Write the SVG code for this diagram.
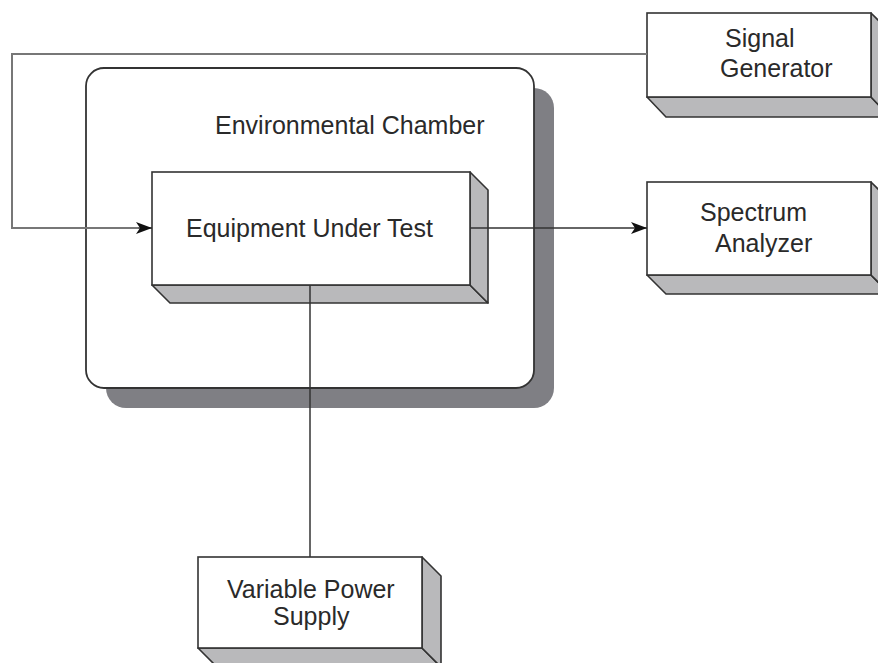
<svg xmlns="http://www.w3.org/2000/svg" width="878" height="663" viewBox="0 0 878 663">
<style>
.front{fill:#fff;stroke:#333;stroke-width:1.6}
.side{fill:#b9b9bb;stroke:#333;stroke-width:1.6;stroke-linejoin:round}
.lbl{font-family:"Liberation Sans",Arial,sans-serif;font-size:25px;fill:#2a2a2a}
.wire{fill:none;stroke:#333;stroke-width:1.5}
.wire2{fill:none;stroke:#777;stroke-width:2}
</style>
<defs>
<marker id="arr" viewBox="0 0 16 12" refX="16" refY="6" markerWidth="16" markerHeight="12" markerUnits="userSpaceOnUse" orient="auto">
<path d="M0,0 L16,6 L0,12 L4,6 Z" fill="#111"/>
</marker>
</defs>
<rect width="878" height="663" fill="#fff"/>
<g id="chamber">
<rect x="106" y="88" width="448" height="320" rx="20" fill="#7f7f84"/>
<rect x="86" y="68" width="448" height="320" rx="18" fill="#fff" stroke="#333" stroke-width="1.8"/>
<text class="lbl" x="215" y="134">Environmental Chamber</text>
</g>
<g id="eut">
<polygon class="side" points="152,285 470,285 488,303 170,303"/>
<polygon class="side" points="470,172 488,190 488,303 470,285"/>
<rect class="front" x="152" y="172" width="318" height="113"/>
<text class="lbl" x="186" y="237">Equipment Under Test</text>
</g>
<g id="signal-generator">
<polygon class="side" points="647,97 871,97 890,117 666,117"/>
<polygon class="side" points="871,13 890,32 890,117 871,97"/>
<rect class="front" x="647" y="13" width="224" height="84"/>
<text class="lbl" x="725" y="47">Signal</text>
<text class="lbl" x="720" y="77">Generator</text>
</g>
<g id="spectrum-analyzer">
<polygon class="side" points="647,275 871,275 890,294 666,294"/>
<polygon class="side" points="871,182 890,201 890,294 871,275"/>
<rect class="front" x="647" y="182" width="224" height="93"/>
<text class="lbl" x="700" y="221">Spectrum</text>
<text class="lbl" x="715" y="252">Analyzer</text>
</g>
<g id="power-supply">
<polygon class="side" points="198,648 422,648 441,667 217,667"/>
<polygon class="side" points="422,557 441,576 441,667 422,648"/>
<rect class="front" x="198" y="557" width="224" height="91"/>
<text class="lbl" x="227" y="598">Variable Power</text>
<text class="lbl" x="273" y="625">Supply</text>
</g>
<g id="connectors">
<path class="wire2" d="M647,54 H12 V228 H138"/>
<path class="wire" d="M138,228 H152" marker-end="url(#arr)"/>
<path class="wire" d="M470,228 H647" marker-end="url(#arr)"/>
<path class="wire" d="M310,285 V557"/>
</g>
</svg>
